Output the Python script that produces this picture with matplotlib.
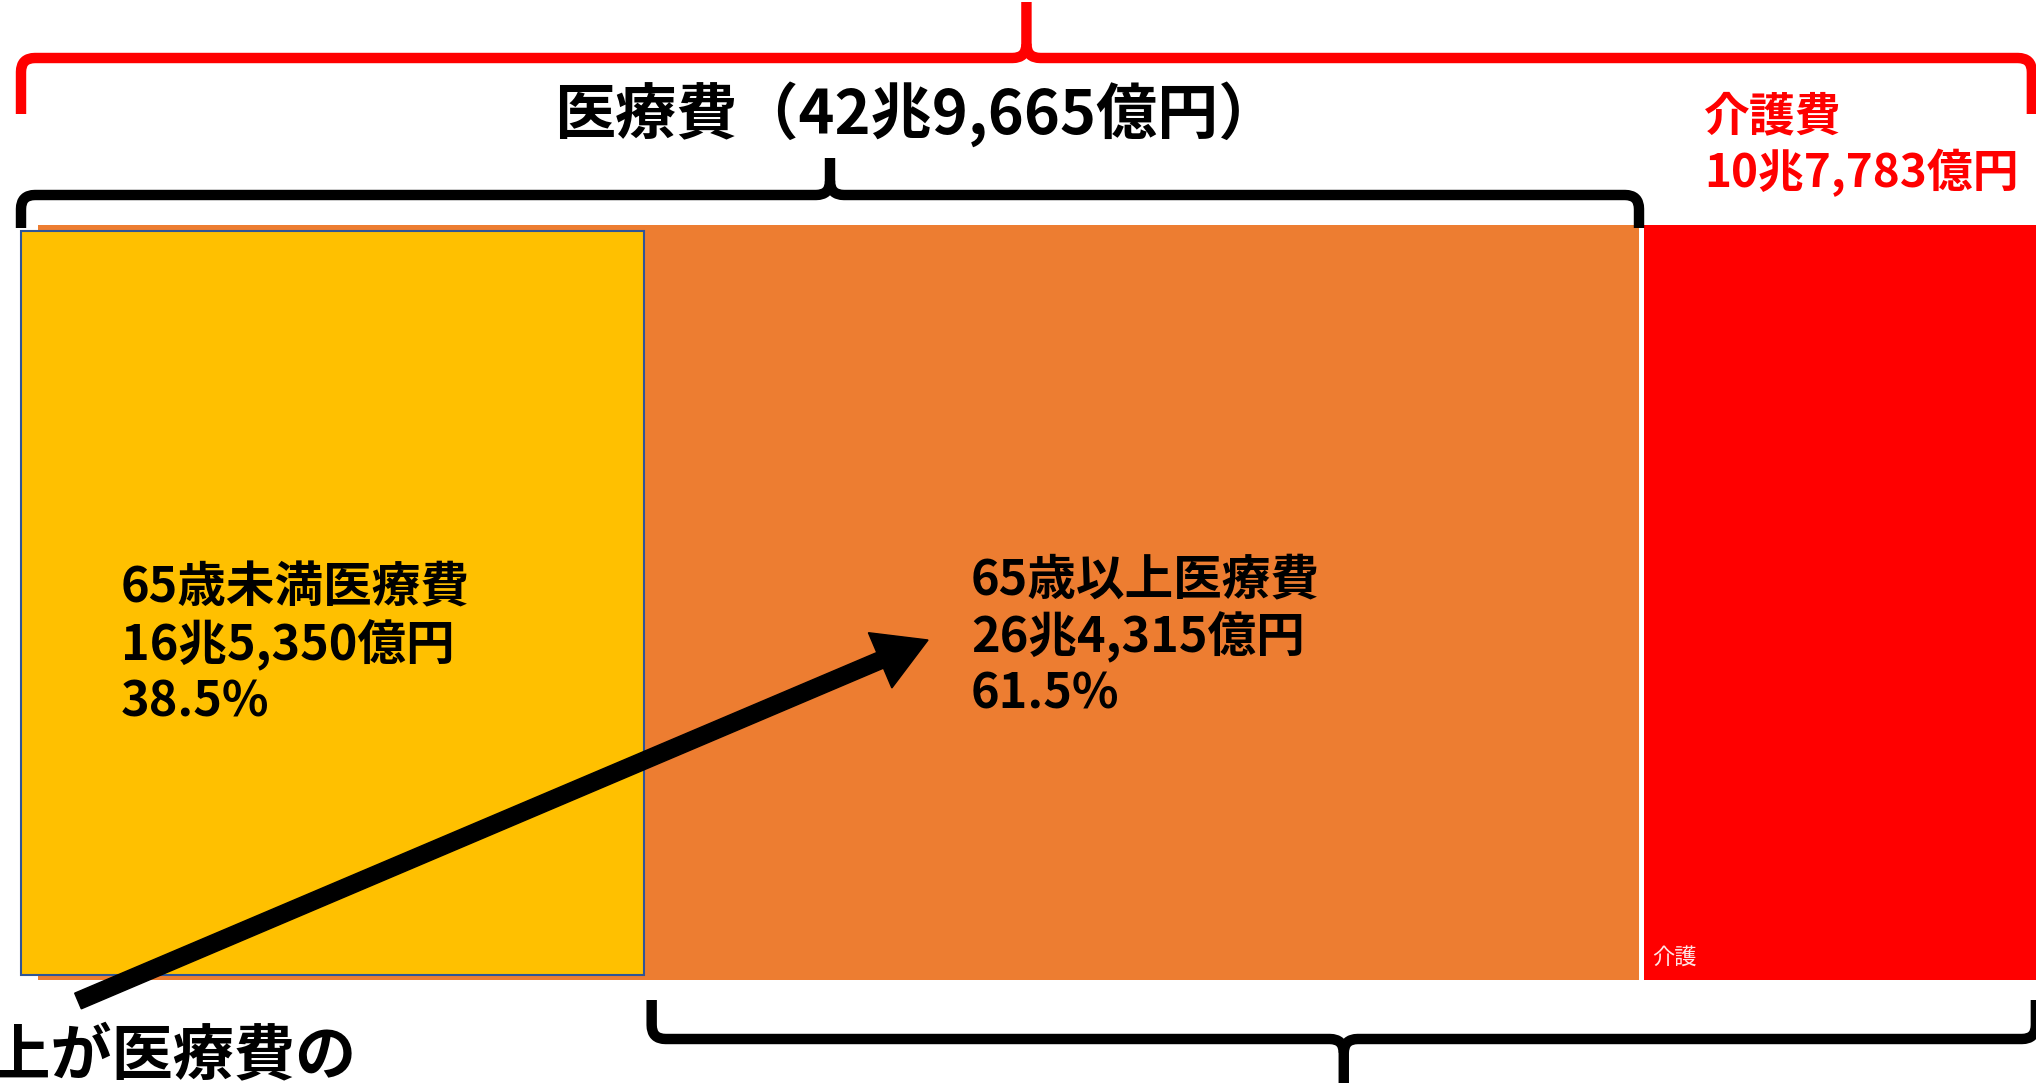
import matplotlib
matplotlib.use('Agg')
import matplotlib.pyplot as plt
from matplotlib.path import Path
from matplotlib.patches import PathPatch, Rectangle, FancyArrow

plt.rcParams['font.family'] = ['Noto Sans CJK JP', 'DejaVu Sans']

# 医療費・介護費 (億円)
medical_total = 429665
under65 = 165350
over65 = 264315
kaigo = 107783
shares = [38.5, 61.5]

title_label = '医療費（42兆9,665億円）'
under65_lines = ['65歳未満医療費', '16兆5,350億円', '38.5%']
over65_lines = ['65歳以上医療費', '26兆4,315億円', '61.5%']
kaigo_lines = ['介護費', '10兆7,783億円']

W, H = 2036, 1083
X0 = 21                       # left edge of the medical block, px
S = (1639 - X0) / medical_total   # px per 億円
GAP = 5 / S                   # white gap between medical and kaigo
SHADOW = 17 / S

YELLOW = '#FFC000'
ORANGE = '#ED7D31'
RED = '#FF0000'

fig = plt.figure(figsize=(W / 100, H / 100), dpi=100)
fig.patch.set_facecolor('white')

# bars: x in 億円, y in px from the top
ax = fig.add_axes([0, 0, 1, 1])
ax.set_xlim(-X0 / S, (W - X0) / S)
ax.set_ylim(H, 0)
ax.axis('off')

top, bottom = 225, 980
ax.add_patch(Rectangle((SHADOW, top), medical_total - SHADOW, bottom - top,
                       facecolor=ORANGE, edgecolor='none', zorder=1))
ax.add_patch(Rectangle((medical_total + GAP, top), kaigo, bottom - top,
                       facecolor=RED, edgecolor='none', zorder=1))
ax.add_patch(Rectangle((0, top + 6), under65, bottom - top - 11,
                       facecolor=YELLOW, edgecolor='#2F5597', lw=1.5, zorder=2))

# overlay in plain pixels for braces and the arrow
ov = fig.add_axes([0, 0, 1, 1], facecolor='none')
ov.set_xlim(0, W)
ov.set_ylim(H, 0)
ov.axis('off')


def px(v):
    return X0 + v * S


def brace(x0, x1, y, y_end, y_tip, color, lw=7.5, r=14):
    xc = (x0 + x1) / 2
    s = 1 if y_end > y else -1       # direction the ends point
    verts = [(x0, y_end), (x0, y + s * r), (x0, y), (x0 + r, y),
             (xc - r, y), (xc, y), (xc, y - s * r), (xc, y_tip)]
    codes = [Path.MOVETO, Path.LINETO, Path.CURVE3, Path.CURVE3,
             Path.LINETO, Path.CURVE3, Path.CURVE3, Path.LINETO]
    verts2 = [(x1, y_end), (x1, y + s * r), (x1, y), (x1 - r, y),
              (xc + r, y), (xc, y), (xc, y - s * r)]
    codes2 = [Path.MOVETO, Path.LINETO, Path.CURVE3, Path.CURVE3,
              Path.LINETO, Path.CURVE3, Path.CURVE3]
    for vv, cc in ((verts, codes), (verts2, codes2)):
        ov.add_patch(PathPatch(Path(vv, cc), facecolor='none', edgecolor=color,
                               lw=lw, capstyle='butt', joinstyle='round', zorder=5))


# 医療費 + 介護費
brace(px(0), px(medical_total + GAP + kaigo) - 18, 58, 114, 2, RED)
# 医療費
brace(px(0), px(medical_total), 195, 228, 158, 'black')
# 65歳以上医療費 + 介護費
brace(px(under65) + 8, px(medical_total + GAP + kaigo) - 14, 1039, 1000, 1090, 'black')

ov.add_patch(FancyArrow(78, 1001, 928 - 78, 640 - 1001, width=17, head_width=60,
                        head_length=52, length_includes_head=True,
                        color='black', zorder=6))

ov.text(917, 114, title_label, fontsize=44, fontweight='bold', color='black',
        ha='center', va='center', zorder=7)

for i, line in enumerate(under65_lines):
    ov.text(121, 588 + i * 57, line, fontsize=35, fontweight='bold',
            color='black', ha='left', va='center', zorder=7)
for i, line in enumerate(over65_lines):
    ov.text(971, 580 + i * 57, line, fontsize=35, fontweight='bold',
            color='black', ha='left', va='center', zorder=7)
for i, line in enumerate(kaigo_lines):
    ov.text(1704, 117 + i * 56, line, fontsize=33, fontweight='bold',
            color=RED, ha='left', va='center', zorder=7)

ov.text(1652, 957, '介護', fontsize=16, color='white', alpha=0.9,
        ha='left', va='center', zorder=7)
ov.text(356, 1058, '65歳以上が医療費の', fontsize=44, fontweight='bold',
        color='black', ha='right', va='center', zorder=7)

fig.savefig('out.png', dpi=100, facecolor='white')
